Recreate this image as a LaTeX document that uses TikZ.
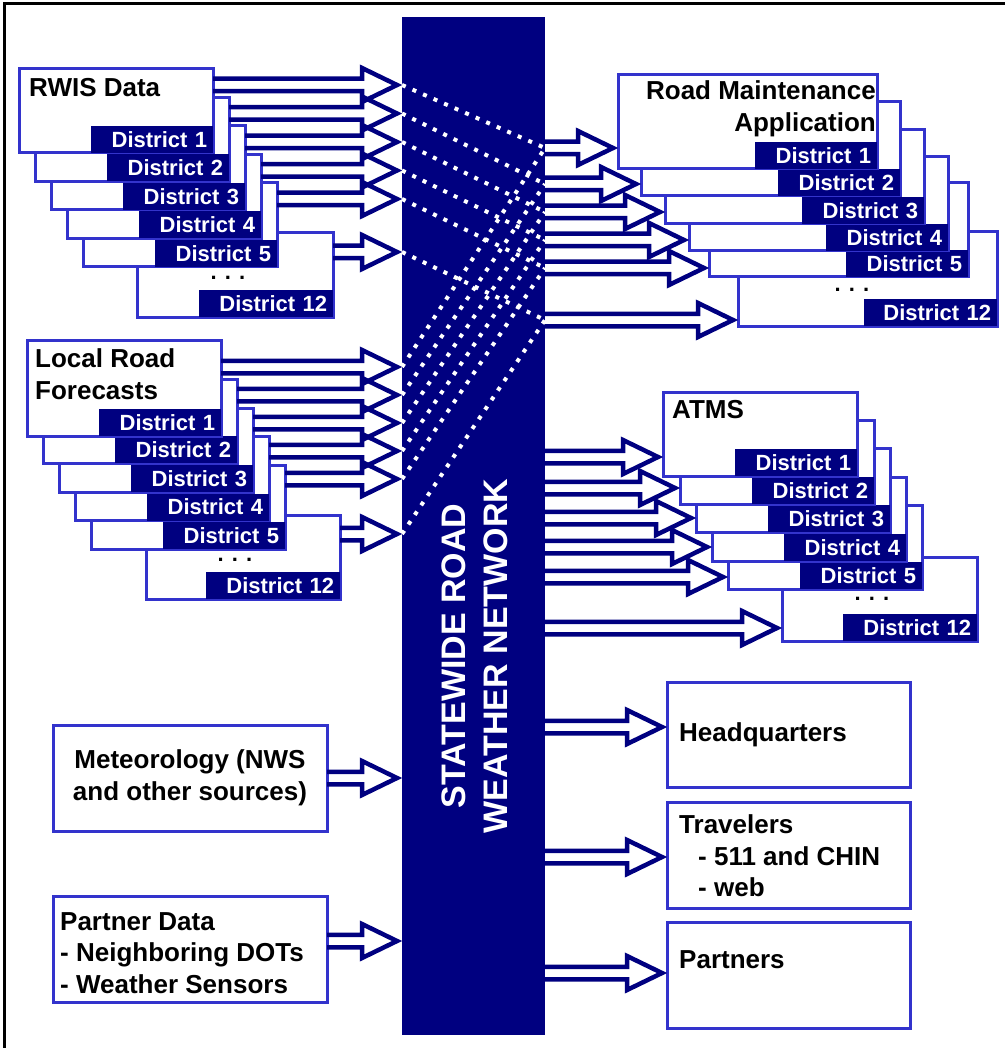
\documentclass[tikz,border=0pt]{standalone}
\usepackage{fontspec}
\setmainfont{Liberation Sans}
\usetikzlibrary{calc}
\definecolor{navy}{RGB}{0,0,128}
\definecolor{boxblue}{RGB}{51,51,204}
\newcommand{\distfont}{\fontsize{22}{26}\selectfont\bfseries}
\newcommand{\headfont}{\fontsize{26}{31.5}\selectfont\bfseries}
\newcommand{\netfont}{\fontsize{34}{42}\selectfont\bfseries}

\begin{document}
\begin{tikzpicture}[x=1pt, y=-1pt,
  box/.style={draw=boxblue, line width=3pt, fill=white, anchor=north west, inner sep=0pt, outer sep=0pt},
  smallbox/.style={box, minimum width=194pt, minimum height=84pt},
  widebox/.style={box, minimum width=259pt, minimum height=94pt},
  dlabel/.style={fill=navy, text=white, font=\distfont, text width=110pt, align=right, inner xsep=6pt, inner ysep=0pt, minimum height=27pt, anchor=south east, outer sep=0pt},
  dlabelw/.style={dlabel, text width=122pt},
  head/.style={font=\headfont, inner sep=0pt},
  more/.style={font=\distfont, inner sep=0pt},
  dotline/.style={draw=white, line width=4pt, dash pattern=on 4pt off 7.5pt},
  hollow/.style={draw=navy, line width=4.5pt, to path={let \p1=(\tikztostart), \p2=(\tikztotarget) in
    (\x1,\y1+6.25pt) -- (\x2-40pt,\y1+6.25pt) -- (\x2-40pt,\y1+17pt) -- (\x2-5pt,\y1)
    -- (\x2-40pt,\y1-17pt) -- (\x2-40pt,\y1-6.25pt) -- (\x1,\y1-6.25pt)}}]
\useasboundingbox (0,0) rectangle (1005,1048);
\draw[line width=3pt] (4.5,1048) -- (4.5,3.5) -- (1005,3.5);

% network bar
\node[fill=navy, anchor=north west, minimum width=143pt, minimum height=1018pt, inner sep=0pt, outer sep=0pt] (bar) at (402,17) {};
\node[font=\netfont, text=white, rotate=90, align=center, inner sep=0pt] (nettitle) at (475,656) {STATEWIDE ROAD\\WEATHER NETWORK};

\coordinate (rwin1) at (402,85);
\coordinate (rwin2) at (402,113.5);
\coordinate (rwin3) at (402,142);
\coordinate (rwin4) at (402,170.5);
\coordinate (rwin5) at (402,199);
\coordinate (rwin12) at (402,252);
\coordinate (lrin1) at (402,367);
\coordinate (lrin2) at (402,395);
\coordinate (lrin3) at (402,423);
\coordinate (lrin4) at (402,451);
\coordinate (lrin5) at (402,479);
\coordinate (lrin12) at (402,534);
\coordinate (rmout1) at (545,148);
\coordinate (rmout2) at (545,184);
\coordinate (rmout3) at (545,212);
\coordinate (rmout4) at (545,240);
\coordinate (rmout5) at (545,268);
\coordinate (rmout12) at (545,320);
\coordinate (atout1) at (545,457);
\coordinate (atout2) at (545,488);
\coordinate (atout3) at (545,518);
\coordinate (atout4) at (545,547);
\coordinate (atout5) at (545,577);
\coordinate (atout12) at (545,628);
\coordinate (metin) at (402,778);
\coordinate (pdin) at (402,941);
\coordinate (hqout) at (545,727);
\coordinate (trout) at (545,857);
\coordinate (paout) at (545,973);

\draw[dotline] (rwin1) -- (rmout1);
\draw[dotline] (rwin2) -- (rmout2);
\draw[dotline] (rwin3) -- (rmout3);
\draw[dotline] (rwin4) -- (rmout4);
\draw[dotline] (rwin5) -- (rmout5);
\draw[dotline] (rwin12) -- (rmout12);
\draw[dotline] (lrin1) -- (rmout1);
\draw[dotline] (lrin2) -- (rmout2);
\draw[dotline] (lrin3) -- (rmout3);
\draw[dotline] (lrin4) -- (rmout4);
\draw[dotline] (lrin5) -- (rmout5);
\draw[dotline] (lrin12) -- (rmout12);

% RWIS data
\node[smallbox, minimum width=196pt] (rw12) at (137,233) {};
\node[dlabelw] (rwl12) at (rw12.south east) {District 12};
\node[more] (rwdots) at (228,278) {. . .};
\node[smallbox] (rw5) at (83,183) {};
\node[dlabel] (rwl5) at (rw5.south east) {District 5};
\node[smallbox] (rw4) at (67,154.5) {};
\node[dlabel] (rwl4) at (rw4.south east) {District 4};
\node[smallbox] (rw3) at (51,126) {};
\node[dlabel] (rwl3) at (rw3.south east) {District 3};
\node[smallbox] (rw2) at (35,97.5) {};
\node[dlabel] (rwl2) at (rw2.south east) {District 2};
\node[smallbox] (rw1) at (19,69) {};
\node[dlabel] (rwl1) at (rw1.south east) {District 1};
\node[head, anchor=west] (rwtitle) at (29,88) {RWIS Data};

% local road forecasts
\node[smallbox] (lr12) at (146,515) {};
\node[dlabelw] (lrl12) at (lr12.south east) {District 12};
\node[more] (lrdots) at (235,560) {. . .};
\node[smallbox] (lr5) at (91,465) {};
\node[dlabel] (lrl5) at (lr5.south east) {District 5};
\node[smallbox] (lr4) at (75,436.5) {};
\node[dlabel] (lrl4) at (lr4.south east) {District 4};
\node[smallbox] (lr3) at (59,408) {};
\node[dlabel] (lrl3) at (lr3.south east) {District 3};
\node[smallbox] (lr2) at (43,379) {};
\node[dlabel] (lrl2) at (lr2.south east) {District 2};
\node[smallbox, minimum height=96pt] (lr1) at (27,340) {};
\node[dlabel] (lrl1) at (lr1.south east) {District 1};
\node[head, anchor=west, align=left] (lrtitle) at (35,374) {Local Road\\Forecasts};

% road maintenance
\node[widebox] (rm12) at (738,232) {};
\node[dlabelw, text width=121pt] (rml12) at (rm12.south east) {District 12};
\node[more] (rmdots) at (852,290) {. . .};
\node[widebox] (rm5) at (709,183) {};
\node[dlabel] (rml5) at (rm5.south east) {District 5};
\node[widebox] (rm4) at (689,157) {};
\node[dlabel] (rml4) at (rm4.south east) {District 4};
\node[widebox] (rm3) at (665,130) {};
\node[dlabel] (rml3) at (rm3.south east) {District 3};
\node[widebox] (rm2) at (641,102) {};
\node[dlabel] (rml2) at (rm2.south east) {District 2};
\node[widebox] (rm1) at (618,75) {};
\node[dlabel] (rml1) at (rm1.south east) {District 1};
\node[head, anchor=east, align=right] (rmtitle) at (876,109) {Road Maintenance\\Application};

% ATMS
\node[smallbox, minimum width=195pt] (at12) at (782,557) {};
\node[dlabelw] (atl12) at (at12.south east) {District 12};
\node[more] (atdots) at (872,599) {. . .};
\node[smallbox] (at5) at (728,505) {};
\node[dlabel] (atl5) at (at5.south east) {District 5};
\node[smallbox] (at4) at (712,477) {};
\node[dlabel] (atl4) at (at4.south east) {District 4};
\node[smallbox] (at3) at (696,448) {};
\node[dlabel] (atl3) at (at3.south east) {District 3};
\node[smallbox] (at2) at (680,420) {};
\node[dlabel] (atl2) at (at2.south east) {District 2};
\node[smallbox] (at1) at (663,392) {};
\node[dlabel] (atl1) at (at1.south east) {District 1};
\node[head, anchor=west] (attitle) at (672,410) {ATMS};

% single boxes
\node[box, minimum width=274pt, minimum height=106pt] (met) at (53,725) {};
\node[head, align=center] (mettext) at (met.center) {Meteorology (NWS\\and other sources)};
\node[box, minimum width=274pt, minimum height=106pt] (pd) at (53,896) {};
\node[head, anchor=west, align=left] (pdtext) at (60,953) {Partner Data\\- Neighboring DOTs\\- Weather Sensors};
\node[box, minimum width=243pt, minimum height=105pt] (hq) at (667,682) {};
\node[head, anchor=west] (hqtext) at (679,735) {Headquarters};
\node[box, minimum width=243pt, minimum height=106pt] (tr) at (667,802) {};
\node[head, anchor=west, align=left] (trtext) at (679,856) {Travelers\\\hspace*{19pt}- 511 and CHIN\\\hspace*{19pt}- web};
\node[box, minimum width=243pt, minimum height=106pt] (pa) at (667,922) {};
\node[head, anchor=west] (patext) at (679,960) {Partners};

% arrows
\draw[hollow] (rw1.east |- rwin1) to (rwin1);
\draw[hollow] (rw2.east |- rwin2) to (rwin2);
\draw[hollow] (rw3.east |- rwin3) to (rwin3);
\draw[hollow] (rw4.east |- rwin4) to (rwin4);
\draw[hollow] (rw5.east |- rwin5) to (rwin5);
\draw[hollow] (rw12.east |- rwin12) to (rwin12);
\draw[hollow] (lr1.east |- lrin1) to (lrin1);
\draw[hollow] (lr2.east |- lrin2) to (lrin2);
\draw[hollow] (lr3.east |- lrin3) to (lrin3);
\draw[hollow] (lr4.east |- lrin4) to (lrin4);
\draw[hollow] (lr5.east |- lrin5) to (lrin5);
\draw[hollow] (lr12.east |- lrin12) to (lrin12);
\draw[hollow] (rmout1) to (rmout1 -| rm1.west);
\draw[hollow] (rmout2) to (rmout2 -| rm2.west);
\draw[hollow] (rmout3) to (rmout3 -| rm3.west);
\draw[hollow] (rmout4) to (rmout4 -| rm4.west);
\draw[hollow] (rmout5) to (rmout5 -| rm5.west);
\draw[hollow] (rmout12) to (rmout12 -| rm12.west);
\draw[hollow] (atout1) to (atout1 -| at1.west);
\draw[hollow] (atout2) to (atout2 -| at2.west);
\draw[hollow] (atout3) to (atout3 -| at3.west);
\draw[hollow] (atout4) to (atout4 -| at4.west);
\draw[hollow] (atout5) to (atout5 -| at5.west);
\draw[hollow] (atout12) to (atout12 -| at12.west);
\draw[hollow] (met.east |- metin) to (metin);
\draw[hollow] (pd.east |- pdin) to (pdin);
\draw[hollow] (hqout) to (hqout -| hq.west);
\draw[hollow] (trout) to (trout -| tr.west);
\draw[hollow] (paout) to (paout -| pa.west);
\end{tikzpicture}
\end{document}
